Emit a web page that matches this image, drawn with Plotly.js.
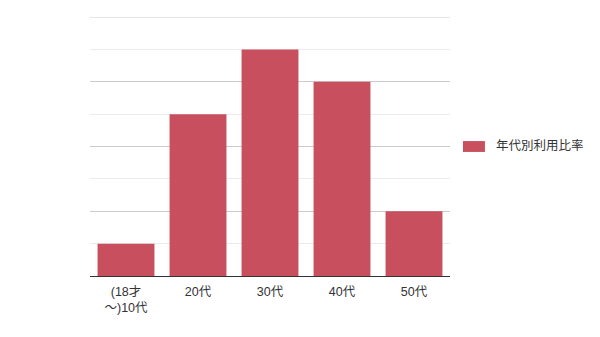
<!DOCTYPE html>
<html><head><meta charset="utf-8">
<script src="https://cdn.plot.ly/plotly-3.0.1.min.js"></script>
<style>html,body{margin:0;padding:0;background:#fff;}#chart{width:600px;height:337px;}</style>
</head><body><div id="chart"></div>
<script>
const categories = ["(18才<br>～)10代", "20代", "30代", "40代", "50代"];
const values = [1, 5, 7, 6, 2];
const seriesName = "年代別利用比率";
const barColor = '#C74F5E';

const trace = {
  type: 'bar', x: categories, y: values, name: seriesName,
  marker: {color: barColor}, hoverinfo: 'none', showlegend: false
};
const layout = {
  width: 600, height: 337,
  margin: {l: 90, r: 150, t: 17, b: 61, pad: 0},
  paper_bgcolor: '#fff', plot_bgcolor: '#fff',
  font: {family: '"Liberation Sans", "Noto Sans CJK JP", sans-serif', size: 12, color: '#333'},
  bargap: 0.21,
  showlegend: false,
  xaxis: {showline: true, linecolor: '#333', linewidth: 1, showgrid: false, ticks: '', ticklabelstandoff: 4,
          tickfont: {size: 12.5, color: '#333'}, fixedrange: true},
  yaxis: {range: [0, 8], dtick: 2, showticklabels: false, showgrid: true, gridcolor: '#cccccc', zeroline: false, ticks: '',
          minor: {dtick: 1, showgrid: true, gridcolor: '#ebebeb', ticks: ''}, fixedrange: true},
  shapes: [
    {type: 'line', xref: 'paper', yref: 'y', x0: 0, x1: 1, y0: 8, y1: 8, line: {color: '#cccccc', width: 1}, layer: 'below'},
    {type: 'rect', xref: 'paper', yref: 'paper', x0: 1.036, x1: 1.097, y0: 0.479, y1: 0.521,
     fillcolor: barColor, line: {width: 0}}
  ],
  annotations: [{xref: 'paper', yref: 'paper', x: 1.122, y: 0.502, xanchor: 'left', yanchor: 'middle',
                 text: seriesName, showarrow: false, font: {size: 12.5, color: '#333'}}]
};
Plotly.newPlot('chart', [trace], layout, {displayModeBar: false, staticPlot: true});
</script></body></html>
